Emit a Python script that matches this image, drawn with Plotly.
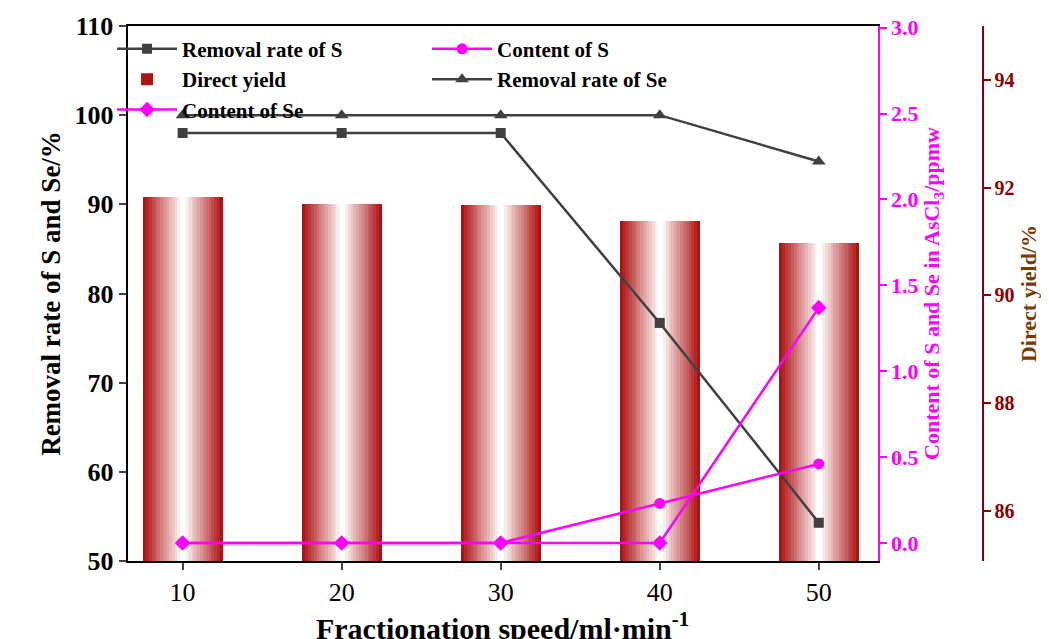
import plotly.graph_objects as go

speed = [10, 20, 30, 40, 50]
removal_S = [98, 98, 98, 76.7, 54.3]
removal_Se = [100, 100, 100, 100, 94.8]
content_S = [0.0, 0.0, 0.0, 0.23, 0.46]
content_Se = [0.0, 0.0, 0.0, 0.0, 1.37]
direct_yield = [91.83, 91.70, 91.67, 91.39, 90.98]

font = "Liberation Serif"
fig = go.Figure()

# gradient bars simulated with overlaid bars (primary y axis so lines draw on top)
n = 14
for i in range(n):
    t = i / (n - 1)
    w = 5.0 * (1 - t * 0.93)
    r = int(175 + (255 - 175) * t)
    g = int(20 + (255 - 20) * t)
    b = int(20 + (255 - 20) * t)
    fig.add_trace(go.Bar(x=speed, y=direct_yield, width=w,
                         marker=dict(color=f"rgb({r},{g},{b})", line=dict(width=0)),
                         yaxis="y", name="<b>Direct yield</b>", showlegend=(i == 0),
                         legendrank=3))

fig.add_trace(go.Scatter(x=speed, y=removal_S, name="<b>Removal rate of S</b>", mode="lines+markers", yaxis="y2",
                         line=dict(color="#404040", width=2.5), marker=dict(symbol="square", size=10),
                         legendrank=1))
fig.add_trace(go.Scatter(x=speed, y=content_S, name="<b>Content of S</b>", mode="lines+markers", yaxis="y3",
                         line=dict(color="#ff00ff", width=2.5), marker=dict(symbol="circle", size=11),
                         legendrank=2))
fig.add_trace(go.Scatter(x=speed, y=removal_Se, name="<b>Removal rate of Se</b>", mode="lines+markers", yaxis="y2",
                         line=dict(color="#404040", width=2.5), marker=dict(symbol="triangle-up", size=12),
                         legendrank=4))
fig.add_trace(go.Scatter(x=speed, y=content_Se, name="<b>Content of Se</b>", mode="lines+markers", yaxis="y3",
                         line=dict(color="#ff00ff", width=2.5), marker=dict(symbol="diamond", size=12),
                         legendrank=5))

fig.update_layout(
    width=1049, height=639, paper_bgcolor="white", plot_bgcolor="white",
    margin=dict(l=0, r=0, t=18, b=86),
    barmode="overlay", bargap=0,
    font=dict(family=font, size=20, color="black"),
    xaxis=dict(domain=[0.114, 0.829], range=[6.54, 53.7], tickvals=speed, tickprefix="<b>", ticksuffix="</b>",
               ticks="outside", ticklen=7, tickwidth=2, showline=True, linecolor="black", linewidth=2,
               mirror=True, showgrid=False, tickfont=dict(family=font, size=26),
               title=dict(text="<b>Fractionation speed/ml·min<sup>-1</sup></b>", font=dict(family=font, size=30), standoff=0)),
    yaxis=dict(side="right", anchor="free", position=0.929, range=[85.07, 95], dtick=2,
               tickprefix="<b>", ticksuffix="</b>",
               ticks="outside", ticklen=7, tickwidth=2, showline=True, linecolor="#8b0000", linewidth=2,
               tickcolor="#8b0000", showgrid=False, tickfont=dict(family=font, size=20, color="#8b0000"),
               title=dict(text="<b>Direct yield/%</b>", font=dict(family=font, size=22, color="#7a3a00"), standoff=6)),
    yaxis2=dict(overlaying="y", side="left", anchor="x", range=[50, 110], dtick=10,
                tickprefix="<b>", ticksuffix="</b>",
                ticks="outside", ticklen=7, tickwidth=2, showline=True,
                linecolor="black", linewidth=2, showgrid=False, tickfont=dict(family=font, size=26),
                title=dict(text="<b>Removal rate of S and Se/%</b>", font=dict(family=font, size=27), standoff=6)),
    yaxis3=dict(overlaying="y", side="right", anchor="x", range=[-0.105, 3.01], dtick=0.5, tickformat=".1f",
                tickprefix="<b>", ticksuffix="</b>",
                ticks="outside", ticklen=7, tickwidth=2, showline=True, linecolor="#ff00ff", linewidth=2,
                tickcolor="#ff00ff", showgrid=False, tickfont=dict(family=font, size=22, color="#ff00ff"),
                title=dict(text="<b>Content of S and Se in AsCl<sub>3</sub>/ppmw</b>",
                           font=dict(family=font, size=22, color="#ff00ff"), standoff=6)),
    legend=dict(orientation="h", x=0.12, y=0.995, xanchor="left", yanchor="top",
                entrywidth=240, entrywidthmode="pixels", bgcolor="rgba(0,0,0,0)",
                font=dict(family=font, size=21, color="black"), traceorder="normal", itemwidth=60),
)
fig.write_html("out.html")
